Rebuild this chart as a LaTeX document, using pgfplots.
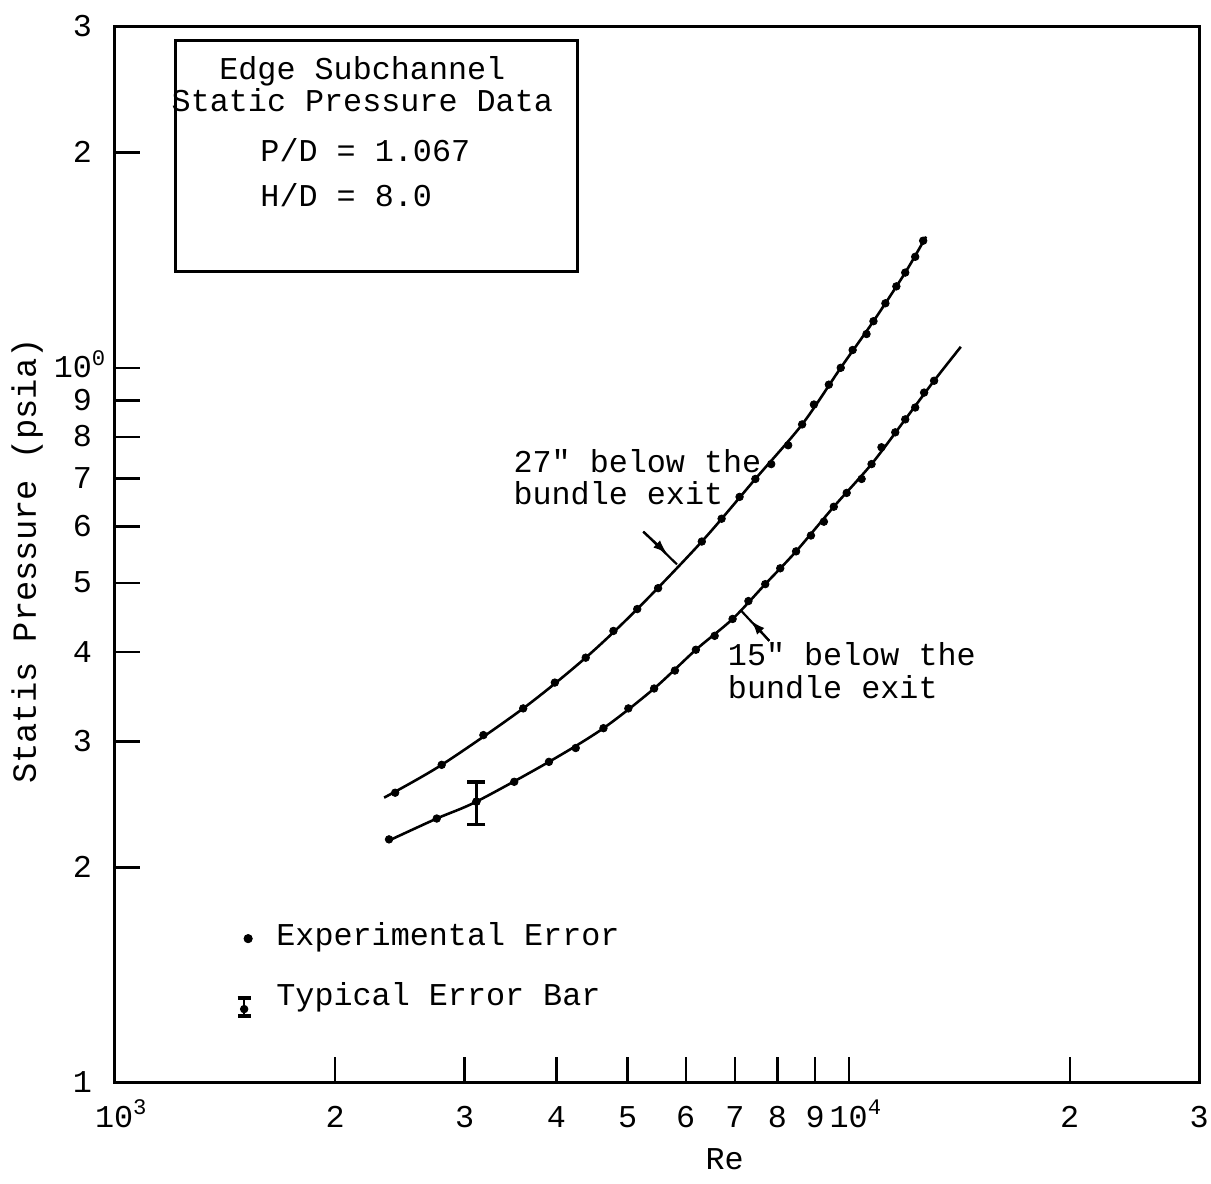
\documentclass[border=0pt]{standalone}
\usepackage{fontspec}
\setmainfont{Liberation Mono}[Ligatures=TeXOff]
\usepackage{pgfplots}
\pgfplotsset{compat=1.18}
\usetikzlibrary{arrows.meta}

\begin{document}
\begin{tikzpicture}[font=\fontsize{16}{19}\selectfont]
\begin{axis}[
  xmode=log, ymode=log,
  scale only axis, width=546.5pt, height=531.8pt,
  xmin=1000, xmax=30000, ymin=1, ymax=30,
  axis line style={line width=1.5pt},
  tick align=inside, tick pos=left,
  major tick length=13pt,
  tick style={line width=1.2pt, black},
  xminorticks=false, yminorticks=false,
  xtick={1000,2000,3000,4000,5000,6000,7000,8000,9000,10000,20000,30000},
  xticklabels={10\rlap{\textsuperscript{3}},2,3,4,5,6,7,8,9,10\rlap{\textsuperscript{4}},2,3},
  ytick={1,2,3,4,5,6,7,8,9,10,20,30},
  yticklabels={1,2,3,4,5,6,7,8,9,10\rlap{\textsuperscript{0}},2,3},
  /pgf/number format/assume math mode=true,
  xticklabel style={anchor=base, inner sep=0pt, yshift=-22.5pt},
  yticklabel style={anchor=base east, inner sep=0pt, xshift=-11pt, yshift=-5pt},
  xlabel={Re}, ylabel={Statis Pressure (psia)},
  every axis x label/.style={at={(rel axis cs:0.5627,0)}, yshift=-44pt, anchor=base, inner sep=0pt},
  every axis y label/.style={at={(rel axis cs:0,0.494)}, xshift=-39.5pt, rotate=90, anchor=base, inner sep=0pt, font=\fontsize{17}{20}\selectfont},
  clip=false,
]
\coordinate (LL) at (rel axis cs:0,0);
\coordinate (UR) at (rel axis cs:1,1);

% 27" below the bundle exit: fitted curve
\addplot[black, line width=1.3pt, smooth] coordinates {
  (2331,2.504) (2792,2.783) (3605,3.338) (4385,3.931) (5154,4.597)
  (6310,5.714) (7464,6.991) (8642,8.333) (9754,10.0) (10808,11.62)
  (11940,13.59) (12746,15.26)};
% 27" data points
\addplot[only marks, mark=*, mark size=1.9pt, black] coordinates {
  (2413,2.544) (2792,2.783) (3182,3.063) (3605,3.338) (3981,3.628)
  (4385,3.931) (4783,4.284) (5154,4.597) (5502,4.917) (6310,5.714)
  (6714,6.150) (7104,6.598) (7464,6.991) (7845,7.334) (8272,7.794)
  (8642,8.333) (8968,8.885) (9397,9.472) (9754,10.0) (10125,10.59)
  (10575,11.15) (10808,11.62) (11220,12.31) (11612,13.00) (11940,13.59)
  (12318,14.30) (12630,15.06)};

% 15" below the bundle exit: fitted curve
\addplot[black, line width=1.3pt, smooth] coordinates {
  (2353,2.175) (2749,2.341) (3113,2.472) (3908,2.810) (4636,3.132)
  (5434,3.559) (6194,4.032) (6950,4.453) (7700,4.981) (8480,5.536)
  (9544,6.392) (10743,7.334) (11940,8.469) (13070,9.592) (14213,10.70)};
% 15" data points
\addplot[only marks, mark=*, mark size=1.9pt, black] coordinates {
  (2367,2.189) (2749,2.341) (3113,2.472) (3505,2.635) (3908,2.810)
  (4250,2.938) (4636,3.132) (5012,3.338) (5434,3.559) (5800,3.771)
  (6194,4.032) (6570,4.217) (6950,4.453) (7304,4.717) (7700,4.981)
  (8069,5.242) (8480,5.536) (8884,5.826) (9252,6.091) (9544,6.392)
  (9938,6.683) (10414,6.991) (10743,7.334) (11082,7.743) (11572,8.123)
  (11940,8.469) (12318,8.799) (12668,9.233) (13070,9.592)};

% typical error bar on the 15" curve
\addplot[black, only marks, mark=*, mark size=1.9pt,
  error bars/.cd, y dir=both, y explicit,
  error bar style={line width=1.2pt, black},
  error mark options={rotate=90, mark size=4.5pt, line width=1.8pt, black}]
  coordinates {(3113,2.472) += (0,0.163) -= (0,0.175)};

% key symbols
\addplot[only marks, mark=*, mark size=2.1pt, black] coordinates {(1522,1.590)};
\addplot[black, only marks, mark=*, mark size=1.9pt,
  error bars/.cd, y dir=both, y explicit,
  error bar style={line width=1.2pt, black},
  error mark options={rotate=90, mark size=3.3pt, line width=1.8pt, black}]
  coordinates {(1503,1.267) += (0,0.046) -= (0,0.028)};

\node[anchor=base west, inner sep=0pt] at (axis cs:1661,1.554) {Experimental Error};
\node[anchor=base west, inner sep=0pt] at (axis cs:1661,1.283) {Typical Error Bar};

% title box
\draw[line width=1.5pt] (axis cs:1213,28.7) rectangle (axis cs:4277,13.64);
\node[anchor=base, inner sep=0pt] at (axis cs:2177,25.28) {Edge Subchannel};
\node[anchor=base, inner sep=0pt] at (axis cs:2177,22.82) {Static Pressure Data};
\node[anchor=base west, inner sep=0pt] at (axis cs:1580,19.45) {P/D = 1.067};
\node[anchor=base west, inner sep=0pt] at (axis cs:1580,16.79) {H/D = 8.0};

% curve labels
\node[anchor=base west, inner sep=0pt] at (axis cs:3493,7.148) {27" below the};
\node[anchor=base west, inner sep=0pt] at (axis cs:3493,6.432) {bundle exit};
\node[anchor=base west, inner sep=0pt] at (axis cs:6841,3.831) {15" below the};
\node[anchor=base west, inner sep=0pt] at (axis cs:6841,3.447) {bundle exit};

\draw[line width=1.1pt] (axis cs:5253,5.899) -- (axis cs:5837,5.309);
\draw[line width=1.1pt, -{Latex[length=7pt,width=5pt]}] (axis cs:5253,5.899) -- (axis cs:5657,5.499);
\draw[line width=1.1pt] (axis cs:7797,4.150) -- (axis cs:7146,4.567);
\draw[line width=1.1pt, -{Latex[length=7pt,width=5pt]}] (axis cs:7797,4.150) -- (axis cs:7371,4.424);
\end{axis}
\pgfresetboundingbox
\path ([shift={(-57.5pt,-51pt)}]LL) rectangle ([shift={(6pt,13.5pt)}]UR);
\end{tikzpicture}
\end{document}
